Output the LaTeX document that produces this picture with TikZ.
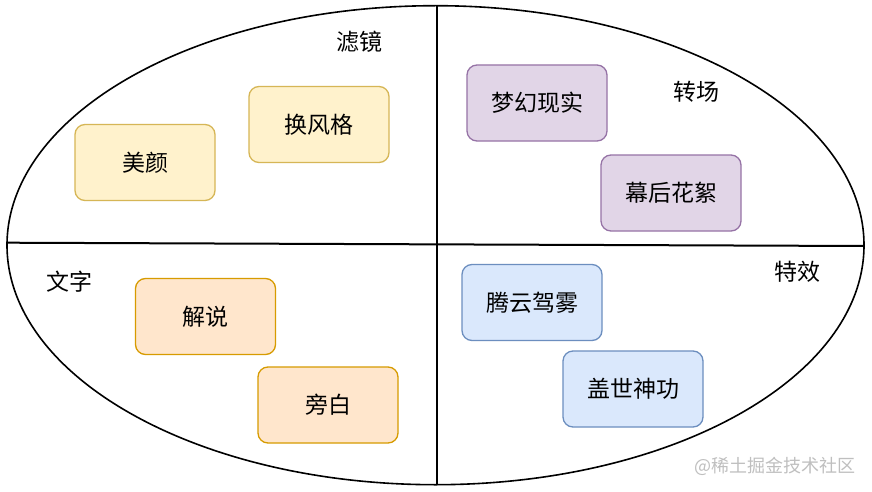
\documentclass[tikz,border=0pt]{standalone}
\usepackage{fontspec}
\setmainfont{Noto Sans CJK SC}
\begin{document}
\begin{tikzpicture}[x=1pt,y=-1pt,
  box/.style={draw, line width=1.3pt, rounded corners=10pt, minimum width=140pt, minimum height=76pt, inner sep=0pt, font=\fontsize{23}{27}\selectfont},
  yel/.style={box, fill=yelF, draw=yelD},
  pur/.style={box, fill=purF, draw=purD},
  ora/.style={box, fill=oraF, draw=oraD},
  blu/.style={box, fill=bluF, draw=bluD},
  lbl/.style={font=\fontsize{23}{27}\selectfont, inner sep=0pt}]
\definecolor{yelF}{HTML}{FFF2CC}\definecolor{yelD}{HTML}{D6B656}
\definecolor{purF}{HTML}{E1D5E7}\definecolor{purD}{HTML}{9673A6}
\definecolor{oraF}{HTML}{FFE6CC}\definecolor{oraD}{HTML}{D79B00}
\definecolor{bluF}{HTML}{DAE8FC}\definecolor{bluD}{HTML}{6C8EBF}
\useasboundingbox[fill=white] (0,0) rectangle (872,492);
\draw[line width=1.6pt] (435.5,245.2) ellipse [x radius=428.5, y radius=239.5];
\coordinate (L) at (7,242.7);
\coordinate (R) at (864,246);
\coordinate (T) at (436.7,5.7);
\coordinate (B) at (436.7,484.7);
\draw[line width=2pt] (L) -- (R);
\draw[line width=2pt] (T) -- (B);
% labels
\node[lbl] (lj) at (359,42) {滤镜};
\node[lbl] (zc) at (696,92) {转场};
\node[lbl] (wz) at (69,282) {文字};
\node[lbl] (tx) at (797,272) {特效};
% boxes
\node[yel] (my) at (145,162.5) {美颜};
\node[yel] (hfg) at (319,124.5) {换风格};
\node[pur] (mhxs) at (537,103) {梦幻现实};
\node[pur] (mhhx) at (671,193) {幕后花絮};
\node[ora] (js) at (205.5,316.5) {解说};
\node[ora] (pb) at (328,405) {旁白};
\node[blu] (tyjw) at (532,302.5) {腾云驾雾};
\node[blu] (gssg) at (633,389) {盖世神功};
\node[font=\fontsize{18}{21}\selectfont, text=black!25, inner sep=0pt] (wm) at (775,466) {@稀土掘金技术社区};
\end{tikzpicture}
\end{document}
